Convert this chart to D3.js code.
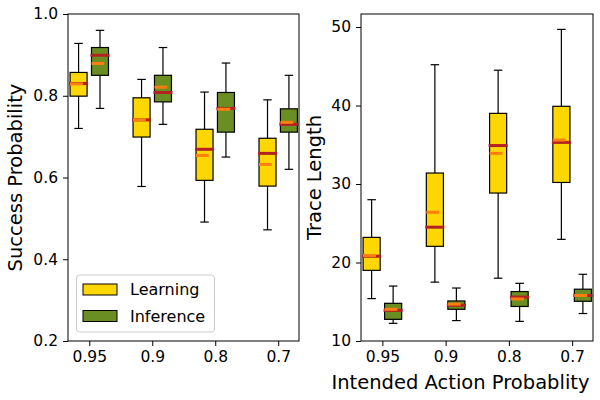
<!DOCTYPE html>
<html><head><meta charset="utf-8">
<script src="https://cdn.jsdelivr.net/npm/d3@7"></script>
<style>body{margin:0;background:#fff;} text{font-family:"DejaVu Sans",sans-serif;}</style>
</head><body><svg id="c" width="600" height="400"></svg>
<script>
// categories (intended action probability)
const categories = ["0.95", "0.9", "0.8", "0.7"];
const seriesNames = ["Learning", "Inference"];
const seriesColors = ["#FFD700", "#6B8E23"];
// each row: [whiskerLow, q1, median, mean, q3, whiskerHigh]
const successLearning = [
  [0.720, 0.799, 0.830, 0.829, 0.857, 0.928],
  [0.578, 0.699, 0.741, 0.741, 0.795, 0.840],
  [0.491, 0.593, 0.669, 0.654, 0.718, 0.809],
  [0.472, 0.579, 0.659, 0.632, 0.696, 0.790]
];
const successInference = [
  [0.769, 0.850, 0.899, 0.879, 0.918, 0.960],
  [0.730, 0.785, 0.808, 0.821, 0.850, 0.918],
  [0.650, 0.711, 0.769, 0.767, 0.808, 0.880],
  [0.620, 0.711, 0.730, 0.735, 0.768, 0.850]
];
const traceLearning = [
  [15.4, 19.0, 20.8, 20.9, 23.2, 28.0],
  [17.5, 22.06, 24.5, 26.4, 31.4, 45.2],
  [18.0, 28.85, 34.9, 33.9, 39.0, 44.5],
  [22.95, 30.2, 35.3, 35.6, 39.9, 49.7]
];
const traceInference = [
  [12.25, 12.76, 13.9, 14.04, 14.8, 17.0],
  [12.6, 14.04, 14.55, 14.7, 15.1, 16.75],
  [12.5, 14.4, 15.6, 15.35, 16.3, 17.35],
  [13.5, 15.06, 15.8, 15.8, 16.6, 18.5]
];
const successTicks = [0.2, 0.4, 0.6, 0.8, 1.0];
const traceTicks = [10, 20, 30, 40, 50];

const svg = d3.select("#c");
const FS = 15.5;
const LFS = 19.5;

function panel(opts) {
  const {x0, x1, y0, y1, yDomain, yTicks, yFmt, series, ylabel, ylabelX} = opts;
  const g = svg.append("g");
  const x = d3.scaleLinear().domain([0.662, 4.33]).range([x0, x1]);
  const y = d3.scaleLinear().domain(yDomain).range([y1, y0]);
  const off = 0.17, bw = 0.27;

  series.forEach((data, si) => {
    data.forEach((d, i) => {
      const cx = x(i + 1 + (si === 0 ? -off : off));
      const w = x(bw) - x(0);
      const left = cx - w / 2;
      const bg = g.append("g");
      bg.append("line").attr("x1", cx).attr("x2", cx).attr("y1", y(d[0])).attr("y2", y(d[1]))
        .attr("stroke", "#000").attr("stroke-width", 1.2);
      bg.append("line").attr("x1", cx).attr("x2", cx).attr("y1", y(d[4])).attr("y2", y(d[5]))
        .attr("stroke", "#000").attr("stroke-width", 1.2);
      [d[0], d[5]].forEach(v => {
        bg.append("line").attr("x1", cx - w / 4).attr("x2", cx + w / 4).attr("y1", y(v)).attr("y2", y(v))
          .attr("stroke", "#000").attr("stroke-width", 1.2);
      });
      bg.append("rect").attr("x", left).attr("y", y(d[4])).attr("width", w).attr("height", y(d[1]) - y(d[4]))
        .attr("fill", seriesColors[si]).attr("stroke", "#000").attr("stroke-width", 1.2);
      // median (red)
      bg.append("line").attr("x1", left - 1).attr("x2", left + w + 1).attr("y1", y(d[2])).attr("y2", y(d[2]))
        .attr("stroke", "#B22222").attr("stroke-width", 3);
      // mean (orange)
      bg.append("line").attr("x1", left).attr("x2", left + w * 0.75).attr("y1", y(d[3])).attr("y2", y(d[3]))
        .attr("stroke", "#FF7F0E").attr("stroke-width", 3);
    });
  });

  const xa = g.append("g").attr("transform", `translate(0,${y1})`)
    .call(d3.axisBottom(x).tickValues([1, 2, 3, 4]).tickFormat((d, i) => categories[i]).tickSize(5).tickPadding(5));
  const ya = g.append("g").attr("transform", `translate(${x0},0)`)
    .call(d3.axisLeft(y).tickValues(yTicks).tickFormat(yFmt).tickSize(5).tickPadding(5));
  [xa, ya].forEach(a => {
    a.select(".domain").remove();
    a.selectAll("text").attr("font-size", FS).attr("font-family", "DejaVu Sans").attr("fill", "#000");
    a.selectAll("line").attr("stroke", "#000");
  });
  g.append("rect").attr("x", x0).attr("y", y0).attr("width", x1 - x0).attr("height", y1 - y0)
    .attr("fill", "none").attr("stroke", "#000").attr("stroke-width", 1);
  g.append("text").attr("transform", `translate(${ylabelX},${(y0 + y1) / 2}) rotate(-90)`)
    .attr("text-anchor", "middle").attr("dominant-baseline", "central").attr("font-size", LFS).text(ylabel);
  return g;
}

panel({x0: 68, x1: 299, y0: 14, y1: 341, yDomain: [0.2, 1.0], yTicks: successTicks,
  yFmt: d3.format(".1f"), series: [successLearning, successInference], ylabel: "Success Probability", ylabelX: 15});
panel({x0: 361, x1: 593, y0: 14, y1: 341, yDomain: [10, 51.66], yTicks: traceTicks,
  yFmt: d3.format("d"), series: [traceLearning, traceInference], ylabel: "Trace Length", ylabelX: 314});

svg.append("text").attr("x", 460.5).attr("y", 388.5).attr("text-anchor", "middle").attr("font-size", LFS)
  .text("Intended Action Probablity");

// legend
const lg = svg.append("g");
lg.append("rect").attr("x", 76.5).attr("y", 275).attr("width", 138).attr("height", 57).attr("rx", 3)
  .attr("fill", "#fff").attr("fill-opacity", 0.8).attr("stroke", "#ccc").attr("stroke-width", 1);
seriesNames.forEach((n, i) => {
  const cy = 289.5 + i * 26.5;
  lg.append("rect").attr("x", 83).attr("y", cy - 5.5).attr("width", 34).attr("height", 11)
    .attr("fill", seriesColors[i]).attr("stroke", "#000").attr("stroke-width", 1);
  lg.append("text").attr("x", 130).attr("y", cy + 5.5).attr("font-size", 16).text(n);
});
</script></body></html>
